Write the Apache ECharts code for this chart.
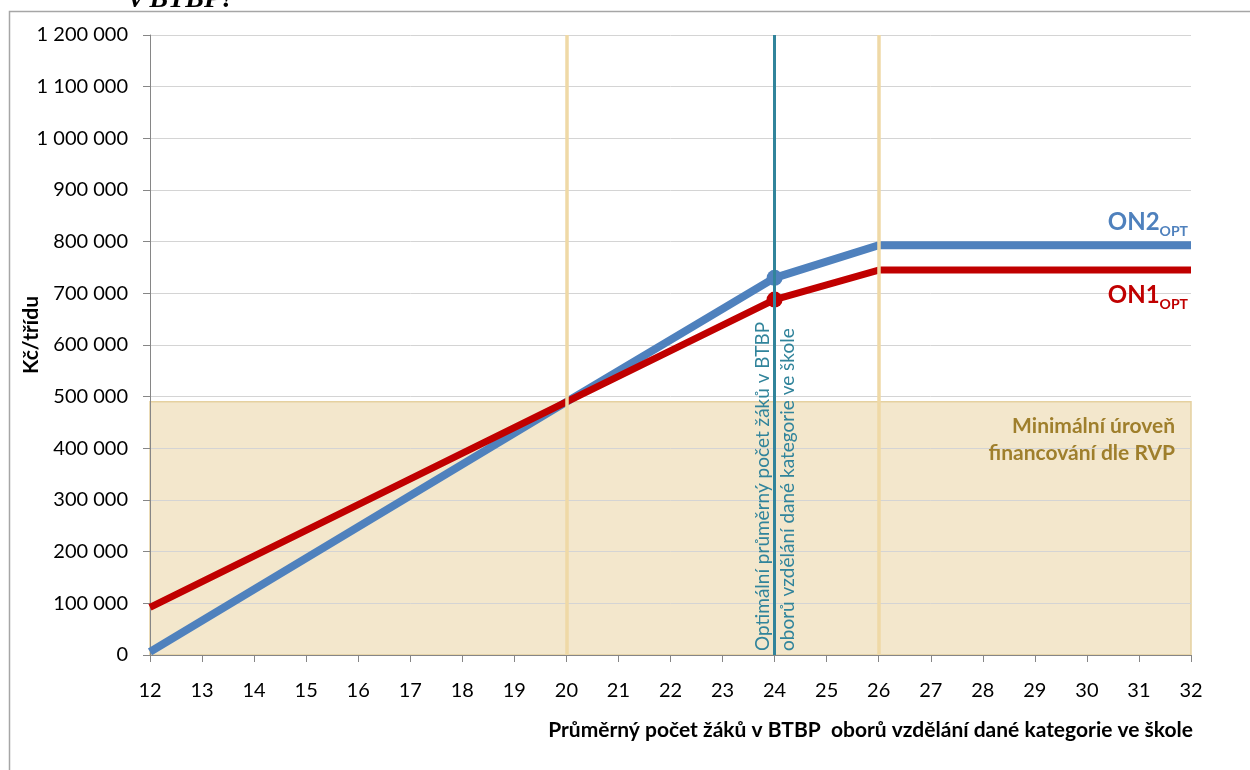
<!DOCTYPE html>
<html>
<head>
<meta charset="utf-8">
<script src="https://cdn.jsdelivr.net/npm/echarts@6/dist/echarts.min.js"></script>
<style>
html,body{margin:0;padding:0;background:#fff;}
#c{width:1250px;height:770px;}
</style>
</head>
<body>
<div id="c"></div>
<script>
// ---- data ----
var xPoints = [12, 20, 24, 26, 32];
var on2Values = [6000, 490000, 730000, 793000, 793000];
var on1Values = [92000, 490000, 688000, 745000, 745000];
var minFunding = 490000;
var xRange = [12, 32];
var yRange = [0, 1200000];
var boundaryLines = [20, 26];
var optimumLine = 24;
var seriesNames = ['ON2', 'ON1'];
var yAxisTitle = 'Kč/třídu';
var xAxisTitle = 'Průměrný počet žáků v BTBP  oborů vzdělání dané kategorie ve škole';
var optimumText = 'Optimální průměrný počet žáků v BTBP\noborů vzdělání dané kategorie ve škole';
var areaText = 'Minimální úroveň\nfinancování dle RVP';
var cutTitle = 'v BTBP?';

var FONT = 'Lato, "Open Sans", sans-serif';
function fmt(v){ return String(v).replace(/\B(?=(\d{3})+(?!\d))/g, ' '); }
function pairs(xs, ys){ return xs.map(function(x,i){ return [x, ys[i]]; }); }

var chart = echarts.init(document.getElementById('c'), null, {renderer:'canvas'});
var option = {
  animation: false,
  backgroundColor: '#fff',
  textStyle: {fontFamily: FONT},
  grid: {left:150, right:59, top:35, bottom:115, containLabel:false, outerBoundsMode:'none'},
  xAxis: {
    type:'value', min:xRange[0], max:xRange[1], interval:1, z:1,
    axisLine:{show:true, onZero:false, lineStyle:{color:'#868686', width:1}},
    axisTick:{show:true, length:7, lineStyle:{color:'#868686'}},
    axisLabel:{color:'#000', fontSize:20, margin:26, fontFamily:FONT},
    splitLine:{show:false},
    name: xAxisTitle, nameLocation:'end', nameGap:0,
    nameTextStyle:{fontWeight:'bold', fontSize:21, color:'#000', fontFamily:FONT,
      align:'right', verticalAlign:'top', padding:[65,-2,0,0]}
  },
  yAxis: {
    type:'value', min:yRange[0], max:yRange[1], interval:100000, z:1,
    axisLine:{show:true, lineStyle:{color:'#868686', width:1}},
    axisTick:{show:true, length:7, lineStyle:{color:'#868686'}},
    axisLabel:{color:'#000', fontSize:20, margin:22, formatter:fmt, fontFamily:FONT},
    splitLine:{show:true, lineStyle:{color:'#D4D4D4', width:1}}
  },
  series: [
    {
      type:'line', data:[], z:0, silent:true,
      markArea:{silent:true, z:0,
        itemStyle:{color:'#F3E7CC', borderColor:'#E5D1A0', borderWidth:1.5},
        data:[[{coord:[xRange[0], 0]}, {coord:[xRange[1], minFunding]}]]
      }
    },
    {
      name: seriesNames[0], type:'line', z:3,
      data: pairs(xPoints, on2Values),
      lineStyle:{color:'#4F81BD', width:8},
      itemStyle:{color:'#4F81BD'},
      symbol:'circle', showSymbol:true, showAllSymbol:true,
      symbolSize:function(v){ return v[0]===optimumLine ? 16 : 0; }
    },
    {
      name: seriesNames[1], type:'line', z:3,
      data: pairs(xPoints, on1Values),
      lineStyle:{color:'#C00000', width:7},
      itemStyle:{color:'#C00000'},
      symbol:'circle', showSymbol:true, showAllSymbol:true,
      symbolSize:function(v){ return v[0]===optimumLine ? 16 : 0; }
    },
    {
      type:'line', data:[], z:5, silent:true,
      markLine:{silent:true, symbol:'none', z:5, animation:false,
        label:{show:false},
        data: boundaryLines.map(function(x){ return {xAxis:x, lineStyle:{color:'#EFD9A6', width:3.5, type:'solid'}}; })
          .concat([{xAxis:optimumLine, lineStyle:{color:'#31849B', width:3, type:'solid'}}])
      }
    }
  ]
};
chart.setOption(option);

var pEnd2 = chart.convertToPixel({gridIndex:0}, [xRange[1], on2Values[4]]);
var pEnd1 = chart.convertToPixel({gridIndex:0}, [xRange[1], on1Values[4]]);
var pOpt = chart.convertToPixel({gridIndex:0}, [optimumLine, 0]);
var pArea = chart.convertToPixel({gridIndex:0}, [xRange[1], minFunding]);

chart.setOption({
  graphic: [
    {type:'rect', shape:{x:9.5, y:11.5, width:1300, height:800}, style:{fill:'none', stroke:'#A6A6A6', lineWidth:1.5}, z:0, silent:true},
    {type:'text', x:130, y:-14, style:{text:cutTitle, font:'italic bold 28px "Liberation Serif", serif', fill:'#000', verticalAlign:'top'}},
    {type:'text', x:31, y:335, rotation:Math.PI/2, z:10,
      style:{text:yAxisTitle, font:'bold 21px '+FONT, fill:'#000', align:'center', verticalAlign:'middle'}},
    {type:'text', x:pEnd2[0]-3, y:pEnd2[1]-11, z:10,
      style:{text:'{a|ON2}{b|OPT}', align:'right', verticalAlign:'bottom',
        rich:{a:{font:'bold 24px '+FONT, fill:'#4F81BD', verticalAlign:'bottom'},
              b:{font:'bold 14px '+FONT, fill:'#4F81BD', verticalAlign:'bottom', padding:[0,0,-4,0]}}}},
    {type:'text', x:pEnd1[0]-3, y:pEnd1[1]+13, z:10,
      style:{text:'{a|ON1}{b|OPT}', align:'right', verticalAlign:'top',
        rich:{a:{font:'bold 24px '+FONT, fill:'#C00000', verticalAlign:'bottom'},
              b:{font:'bold 14px '+FONT, fill:'#C00000', verticalAlign:'bottom', padding:[0,0,-4,0]}}}},
    {type:'text', x:pOpt[0]+1, y:pOpt[1]-4, rotation:Math.PI/2, z:10,
      style:{text:optimumText, font:'19px '+FONT, fill:'#31849B', align:'left', verticalAlign:'middle', lineHeight:25}},
    {type:'text', x:pArea[0]-16, y:pArea[1]+11, z:10,
      style:{text:areaText, font:'bold 21px '+FONT, fill:'#9F7F2C', align:'right', verticalAlign:'top', lineHeight:27}}
  ]
});
</script>
</body>
</html>
